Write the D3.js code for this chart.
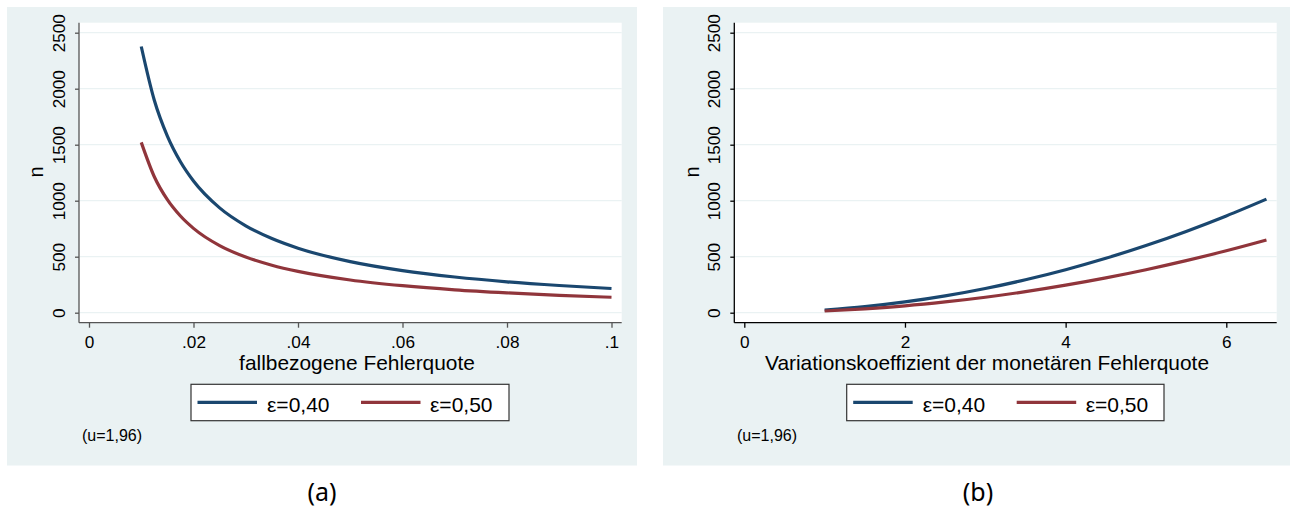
<!DOCTYPE html>
<html><head><meta charset="utf-8">
<script src="https://cdn.jsdelivr.net/npm/d3@7"></script>
<style>body{margin:0;background:#fff}svg{display:block}</style>
</head><body>
<svg id="chart" width="1291" height="512"></svg>
<script>
// ---- data ----
const fehlerquote = [0.01,0.0125,0.015,0.0175,0.02,0.025,0.03,0.035,0.04,0.05,0.06,0.07,0.08,0.09,0.1];
const nA_eps40 = [2377,1897,1577,1348,1176,936,776,662,576,456,376,319,276,243,216];
const nA_eps50 = [1521,1214,1009,863,753,599,497,424,369,292,241,204,177,155,138];

const variationskoeff = [1,1.5,2,2.5,3,3.5,4,4.5,5,5.5,6,6.5];
const nB_eps40 = [24,54,96,150,216,294,384,486,600,726,864,1014];
const nB_eps50 = [15,35,61,96,138,188,246,311,384,465,553,649];

const yTicks = [0,500,1000,1500,2000,2500];
const xTicksA = [0,0.02,0.04,0.06,0.08,0.1];
const xTickLabelsA = ["0",".02",".04",".06",".08",".1"];
const xTicksB = [0,2,4,6];
const xTickLabelsB = ["0","2","4","6"];
const seriesNames = ["ε=0,40","ε=0,50"];
const seriesColors = ["#1a476f","#90353b"];

const svg = d3.select("#chart");
const FONT = "'Liberation Sans', Arial, sans-serif";

function panel(o){
  const g = svg.append("g");
  g.append("rect").attr("x",o.bg[0]).attr("y",o.bg[1]).attr("width",o.bg[2]).attr("height",o.bg[3]).attr("fill","#eaf2f3");
  g.append("rect").attr("x",o.plot[0]).attr("y",o.plot[1]).attr("width",o.plot[2]-o.plot[0]).attr("height",o.plot[3]-o.plot[1]).attr("fill","#fff");
  const x = d3.scaleLinear().domain(o.xDomain).range(o.xRange);
  const y = d3.scaleLinear().domain([0,2500]).range([312.7,32.7]);
  // grid
  g.selectAll("line.grid").data(yTicks).join("line")
    .attr("x1",o.plot[0]+1).attr("x2",o.plot[2]).attr("y1",d=>y(d)).attr("y2",d=>y(d))
    .attr("stroke","#eaf2f3").attr("stroke-width",1.3);
  // axes
  const ya = d3.axisLeft(y).tickValues(yTicks).tickFormat(d3.format("d")).tickSize(4).tickPadding(6);
  const yg = g.append("g").attr("transform",`translate(${o.plot[0]},0)`).call(ya);
  yg.select(".domain").attr("d",`M-0,${o.plot[1]}V${o.plot[3]}`).attr("stroke",o.axisColor).attr("stroke-width",1.3);
  yg.selectAll(".tick line").attr("stroke",o.axisColor).attr("stroke-width",1.3);
  yg.selectAll(".tick text").attr("font-family",FONT).attr("font-size",17.2).attr("fill","#000")
    .attr("transform","rotate(-90)").attr("x",0).attr("y",-14).attr("dy","0").attr("text-anchor","middle");
  const xa = d3.axisBottom(x).tickValues(o.xTicks).tickFormat((d,i)=>o.xLabels[i]).tickSize(5).tickPadding(5);
  const xg = g.append("g").attr("transform",`translate(0,${o.plot[3]})`).call(xa);
  xg.select(".domain").attr("d",`M${o.plot[0]},0H${o.plot[2]}`).attr("stroke",o.axisColor).attr("stroke-width",1.3);
  xg.selectAll(".tick line").attr("stroke",o.axisColor).attr("stroke-width",1.3);
  xg.selectAll(".tick text").attr("font-family",FONT).attr("font-size",17.2).attr("fill","#000")
    .attr("y",25.6).attr("dy","0");
  // lines
  const line = d3.line().x((d,i)=>x(o.xs[i])).y(d=>y(d)).curve(d3.curveMonotoneX);
  o.ys.forEach((ys,k)=>{
    g.append("path").datum(ys).attr("d",line).attr("fill","none")
      .attr("stroke",seriesColors[k]).attr("stroke-width",3.2);
  });
  // titles
  g.append("text").attr("transform",`translate(${o.plot[0]-35.7},172) rotate(-90)`)
    .attr("text-anchor","middle").attr("font-family",FONT).attr("font-size",20).text("n");
  g.append("text").attr("x",o.xTitleX).attr("y",370).attr("text-anchor","middle")
    .attr("font-family",FONT).attr("font-size",20.9).text(o.xTitle);
  // legend
  const L = o.legend;
  g.append("rect").attr("x",L[0]).attr("y",384.3).attr("width",L[1]-L[0]).attr("height",36.4)
    .attr("fill","#fff").attr("stroke","#333").attr("stroke-width",1.2);
  const items = [[L[0]+6.5,L[0]+66,L[0]+76],[L[0]+170,L[0]+229.5,L[0]+239]];
  items.forEach((it,k)=>{
    g.append("line").attr("x1",it[0]).attr("x2",it[1]).attr("y1",402.3).attr("y2",402.3)
      .attr("stroke",seriesColors[k]).attr("stroke-width",3.2);
    g.append("text").attr("x",it[2]).attr("y",411.5).attr("font-family",FONT).attr("font-size",21).text(seriesNames[k]);
  });
  g.append("text").attr("x",o.noteX).attr("y",441).attr("font-family",FONT).attr("font-size",16).text("(u=1,96)");
  svg.append("text").attr("x",o.capX).attr("y",501).attr("text-anchor","middle")
    .attr("font-family","'Noto Sans', sans-serif").attr("font-size",25).text(o.caption);
}

panel({bg:[7,7,630,458.5], plot:[79,22.7,621.7,322.7], xDomain:[0,0.1], xRange:[89,611.5],
  xTicks:xTicksA, xLabels:xTickLabelsA, xs:fehlerquote, ys:[nA_eps40,nA_eps50], axisColor:"#555",
  xTitle:"fallbezogene Fehlerquote", xTitleX:357, legend:[191,509], noteX:82, capX:322, caption:"(a)"});
panel({bg:[663,7,627,458.5], plot:[734.3,22.7,1276.7,322.7], xDomain:[0,6], xRange:[744.3,1226.3],
  xTicks:xTicksB, xLabels:xTickLabelsB, xs:variationskoeff, ys:[nB_eps40,nB_eps50], axisColor:"#000",
  xTitle:"Variationskoeffizient der monetären Fehlerquote", xTitleX:987, legend:[846.7,1164], noteX:737, capX:978, caption:"(b)"});
</script>
</body></html>
